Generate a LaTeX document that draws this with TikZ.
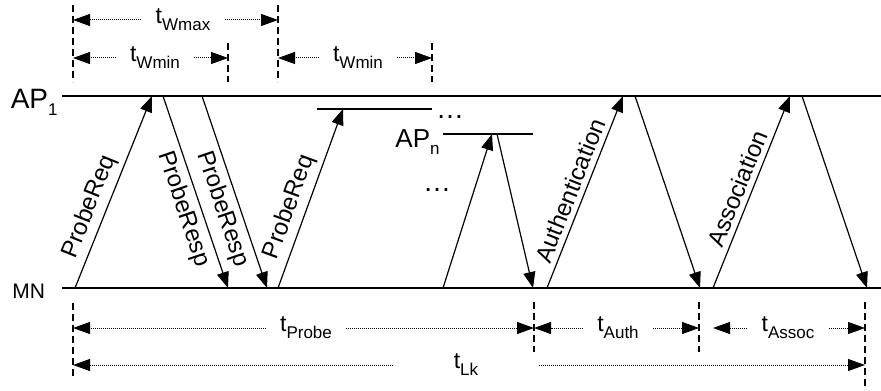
\documentclass[tikz,border=0pt]{standalone}
\usepackage{fontspec}
\setmainfont{Liberation Sans}
\usetikzlibrary{arrows.meta}

\tikzset{
  timeline/.style={line width=0.85pt},
  apline/.style={line width=0.75pt},
  msg/.style={line width=0.6pt, -{Triangle[length=8pt,width=6pt]}},
  msglabel/.style={font=\fontsize{12}{12}\selectfont, sloped, inner sep=2.5pt},
  guide/.style={line width=0.9pt, dash pattern=on 3.5pt off 2pt},
  dimline/.style={line width=0.5pt, dash pattern=on 0.5pt off 0.5pt, -{Triangle[length=8.5pt,width=6pt]}},
  dimlabel/.style={font=\fontsize{11.5}{12}\selectfont, inner xsep=7pt, inner ysep=0pt},
}
\newcommand\lowsub[1]{\raisebox{-3.5pt}{\fontsize{8.5}{9}\selectfont #1}}

\begin{document}
\begin{tikzpicture}[x=0.5pt,y=-0.5pt]
    \useasboundingbox (0,0) rectangle (881,390);
    % time lines of AP_1 and the mobile node
    \coordinate (ap1-w) at (62,96);  \coordinate (ap1-e) at (881,96);
    \coordinate (mn-w) at (62,288);  \coordinate (mn-e) at (881,288);
    \draw[timeline] (ap1-w) -- (ap1-e);
    \draw[timeline] (mn-w) -- (mn-e);
    \node[font=\fontsize{14}{14}\selectfont, anchor=base east, inner sep=0pt] (ap1) at (58,108) {AP\lowsub{1}};
    \node[font=\fontsize{10.5}{11}\selectfont, anchor=base west, inner sep=0pt] (mn) at (12,298) {MN};
    % further access points
    \coordinate (ap2-w) at (317,109); \coordinate (ap2-e) at (432,109);
    \coordinate (apn-w) at (443,134); \coordinate (apn-e) at (533,134);
    \draw[apline] (ap2-w) -- (ap2-e);
    \draw[apline] (apn-w) -- (apn-e);
    \node[font=\fontsize{13}{13}\selectfont, anchor=base east, inner sep=0pt] (apn) at (440,147) {AP\lowsub{n}};
    \node[font=\fontsize{14}{14}\selectfont, inner sep=0pt] (dots1) at (450,117) {\ldots};
    \node[font=\fontsize{14}{14}\selectfont, inner sep=0pt] (dots2) at (437,190) {\ldots};
    % probe, authentication and association frames
    \coordinate (m1a) at (75,288);  \coordinate (m1b) at (152,96);
    \coordinate (m2a) at (163,96);  \coordinate (m2b) at (228,288);
    \coordinate (m3a) at (202,96);  \coordinate (m3b) at (267,288);
    \coordinate (m4a) at (278,288); \coordinate (m4b) at (343,109);
    \coordinate (m5a) at (443,288); \coordinate (m5b) at (492,134);
    \coordinate (m6a) at (497,134); \coordinate (m6b) at (533,288);
    \coordinate (m7a) at (547,288); \coordinate (m7b) at (623,96);
    \coordinate (m8a) at (635,96);  \coordinate (m8b) at (700,288);
    \coordinate (m9a) at (713,288); \coordinate (m9b) at (790,96);
    \coordinate (m10a) at (802,96); \coordinate (m10b) at (867,288);
    \draw[msg] (m1a) -- node[msglabel, above, pos=0.39] (req1) {ProbeReq} (m1b);
    \draw[msg] (m2a) -- node[msglabel, below, pos=0.56] (resp1) {ProbeResp} (m2b);
    \draw[msg] (m3a) -- node[msglabel, below, pos=0.56] (resp2) {ProbeResp} (m3b);
    \draw[msg] (m4a) -- node[msglabel, above, pos=0.42] (req2) {ProbeReq} (m4b);
    \draw[msg] (m5a) -- (m5b);
    \draw[msg] (m6a) -- (m6b);
    \draw[msg] (m7a) -- node[msglabel, above, pos=0.48] (authmsg) {Authentication} (m7b);
    \draw[msg] (m8a) -- (m8b);
    \draw[msg] (m9a) -- node[msglabel, above, pos=0.49] (assocmsg) {Association} (m9b);
    \draw[msg] (m10a) -- (m10b);
    % waiting times on top
    \coordinate (g0) at (73,5);   \draw[guide] (g0) -- (73,82);
    \coordinate (g1) at (228,43); \draw[guide] (g1) -- (228,82);
    \coordinate (g2) at (278,5);  \draw[guide] (g2) -- (278,82);
    \coordinate (g3) at (432,43); \draw[guide] (g3) -- (432,82);
    \node[dimlabel] (wmax) at (183,20) {t\lowsub{Wmax}};
    \node[dimlabel] (wmin1) at (155,58) {t\lowsub{Wmin}};
    \node[dimlabel] (wmin2) at (358,58) {t\lowsub{Wmin}};
    \draw[dimline] (wmax.west) -- (wmax.west -| g0);
    \draw[dimline] (wmax.east) -- (wmax.east -| g2);
    \draw[dimline] (wmin1.west) -- (wmin1.west -| g0);
    \draw[dimline] (wmin1.east) -- (wmin1.east -| g1);
    \draw[dimline] (wmin2.west) -- (wmin2.west -| g2);
    \draw[dimline] (wmin2.east) -- (wmin2.east -| g3);
    % handoff phases below
    \coordinate (h0) at (73,303);  \draw[guide] (h0) -- (73,378);
    \coordinate (h1) at (534,302); \draw[guide] (h1) -- (534,352);
    \coordinate (h2) at (699,302); \draw[guide] (h2) -- (699,352);
    \coordinate (h3) at (865,302); \draw[guide] (h3) -- (865,390);
    \node[dimlabel] (probe) at (306,328) {t\lowsub{Probe}};
    \node[dimlabel] (auth) at (618,328) {t\lowsub{Auth}};
    \node[dimlabel] (assoc) at (788,328) {t\lowsub{Assoc}};
    \node[dimlabel, inner xsep=30pt] (lk) at (466,365) {t\lowsub{Lk}};
    \draw[dimline] (probe.west) -- (probe.west -| h0);
    \draw[dimline] (probe.east) -- (probe.east -| h1);
    \draw[dimline] (auth.west) -- (auth.west -| h1);
    \draw[dimline] (auth.east) -- (auth.east -| h2);
    \draw[dimline] (assoc.west) -- (assoc.west -| m9a);
    \draw[dimline] (assoc.east) -- (assoc.east -| h3);
    \draw[dimline] (lk.west) -- (lk.west -| h0);
    \draw[dimline] (lk.east) -- (lk.east -| h3);
\end{tikzpicture}
\end{document}
